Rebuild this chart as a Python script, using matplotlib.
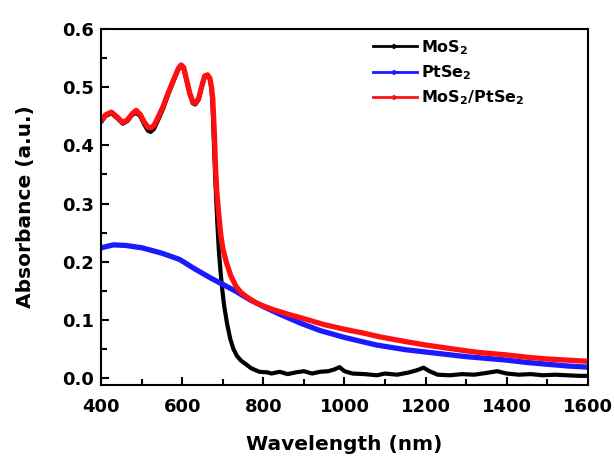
import matplotlib
matplotlib.use("Agg")
import matplotlib.pyplot as plt
from matplotlib.lines import Line2D
from matplotlib.ticker import MultipleLocator

plt.rcParams['font.family'] = ['DejaVu Sans']
plt.rcParams['font.weight'] = 'bold'
plt.rcParams['mathtext.default'] = 'bf'

# ---- absorbance spectra ----
mos2_wl = [400, 410, 425, 440, 453, 465, 476, 486, 496, 505, 515, 522, 530, 540,
           552, 565, 578, 590, 597, 603, 610, 618, 626, 632, 640, 648, 655, 662,
           668, 672, 675, 678, 682, 686, 690, 694, 698, 703, 710, 718, 726, 735,
           745, 755, 770, 790, 810, 820, 840, 860, 880, 900, 920, 940, 960, 975,
           988, 1000, 1020, 1050, 1080, 1100, 1130, 1160, 1180, 1195, 1210, 1230,
           1260, 1290, 1320, 1350, 1377, 1400, 1430, 1460, 1490, 1520, 1550, 1580,
           1600]
mos2_abs = [0.440, 0.450, 0.455, 0.446, 0.437, 0.442, 0.452, 0.456, 0.450, 0.437,
            0.425, 0.423, 0.428, 0.443, 0.462, 0.487, 0.510, 0.530, 0.536, 0.532,
            0.512, 0.488, 0.472, 0.470, 0.478, 0.500, 0.517, 0.520, 0.514, 0.495,
            0.460, 0.400, 0.330, 0.270, 0.220, 0.185, 0.155, 0.125, 0.095, 0.068,
            0.050, 0.038, 0.030, 0.025, 0.017, 0.011, 0.010, 0.008, 0.011, 0.007,
            0.010, 0.012, 0.008, 0.011, 0.012, 0.015, 0.019, 0.012, 0.008, 0.007,
            0.005, 0.008, 0.006, 0.010, 0.014, 0.018, 0.012, 0.006, 0.005, 0.007,
            0.006, 0.009, 0.012, 0.008, 0.006, 0.007, 0.005, 0.006, 0.005, 0.004,
            0.004]

ptse2_wl = [400, 430, 460, 500, 548, 593, 630, 670, 700, 730, 766, 800, 840, 890,
            939, 1000, 1079, 1150, 1200, 1250, 1300, 1334, 1400, 1450, 1500, 1550,
            1600]
ptse2_abs = [0.224, 0.229, 0.228, 0.224, 0.215, 0.204, 0.188, 0.172, 0.161, 0.150,
             0.135, 0.123, 0.110, 0.095, 0.082, 0.070, 0.057, 0.049, 0.045, 0.041,
             0.037, 0.035, 0.031, 0.027, 0.024, 0.021, 0.019]

hetero_wl = [400, 410, 425, 440, 453, 465, 476, 486, 496, 505, 515, 522, 530, 540,
             552, 565, 578, 590, 597, 603, 610, 618, 626, 632, 640, 648, 655, 662,
             668, 672, 675, 679, 682, 685, 690, 695, 700, 709, 720, 733, 745, 758,
             780, 800, 823, 860, 906, 950, 1000, 1050, 1087, 1150, 1200, 1250,
             1300, 1334, 1400, 1450, 1500, 1550, 1600]
hetero_abs = [0.443, 0.452, 0.457, 0.448, 0.439, 0.444, 0.454, 0.460, 0.453, 0.441,
              0.431, 0.430, 0.434, 0.448, 0.466, 0.490, 0.512, 0.532, 0.538, 0.534,
              0.514, 0.490, 0.474, 0.472, 0.480, 0.502, 0.519, 0.521, 0.515, 0.500,
              0.480, 0.420, 0.360, 0.320, 0.280, 0.245, 0.222, 0.198, 0.175, 0.157,
              0.147, 0.140, 0.130, 0.124, 0.118, 0.110, 0.101, 0.092, 0.084, 0.077,
              0.071, 0.063, 0.057, 0.052, 0.047, 0.044, 0.040, 0.036, 0.033, 0.031,
              0.029]

series_labels = ['MoS$_2$', 'PtSe$_2$', 'MoS$_2$/PtSe$_2$']
series_colors = ['#000000', '#1a1aff', '#ff1010']
series_widths = [3.0, 3.8, 3.8]
x_ticks = [400, 600, 800, 1000, 1200, 1400, 1600]
y_ticks = [0.0, 0.1, 0.2, 0.3, 0.4, 0.5, 0.6]

fig = plt.figure(figsize=(6.14, 4.58), dpi=100)
ax = fig.add_axes([0.165, 0.159, 0.792, 0.778])

data = [(mos2_wl, mos2_abs), (ptse2_wl, ptse2_abs), (hetero_wl, hetero_abs)]
for (wl, ab), c, w in zip(data, series_colors, series_widths):
    ax.plot(wl, ab, color=c, lw=w, solid_joinstyle='round', solid_capstyle='round')

ax.set_xlim(400, 1600)
ax.set_ylim(-0.012, 0.6)
ax.set_xticks(x_ticks)
ax.set_yticks(y_ticks)
ax.set_yticklabels([f'{v:.1f}' for v in y_ticks])
ax.xaxis.set_minor_locator(MultipleLocator(100))
ax.yaxis.set_minor_locator(MultipleLocator(0.05))
ax.tick_params(which='both', direction='in', top=False, right=False,
               width=1.5, labelsize=13)
ax.tick_params(axis='x', pad=9)
ax.tick_params(axis='y', pad=5)
ax.tick_params(which='major', length=6)
ax.tick_params(which='minor', length=4)
for lab in ax.get_xticklabels() + ax.get_yticklabels():
    lab.set_fontweight('bold')
for sp in ax.spines.values():
    sp.set_linewidth(1.5)

ax.set_xlabel('Wavelength (nm)', fontsize=14.5, fontweight='bold', labelpad=14)
ax.set_ylabel('Absorbance (a.u.)', fontsize=14.5, fontweight='bold', labelpad=20)

handles = [Line2D([], [], color=c, lw=2, marker='>', ms=3) for c in series_colors]
ax.legend(handles, series_labels, loc='upper left', bbox_to_anchor=(0.53, 1.015),
          frameon=False, handlelength=2.7, handletextpad=0.3,
          labelspacing=0.42, prop={'weight': 'bold', 'size': 11.5})

fig.savefig('out.png', dpi=100)
